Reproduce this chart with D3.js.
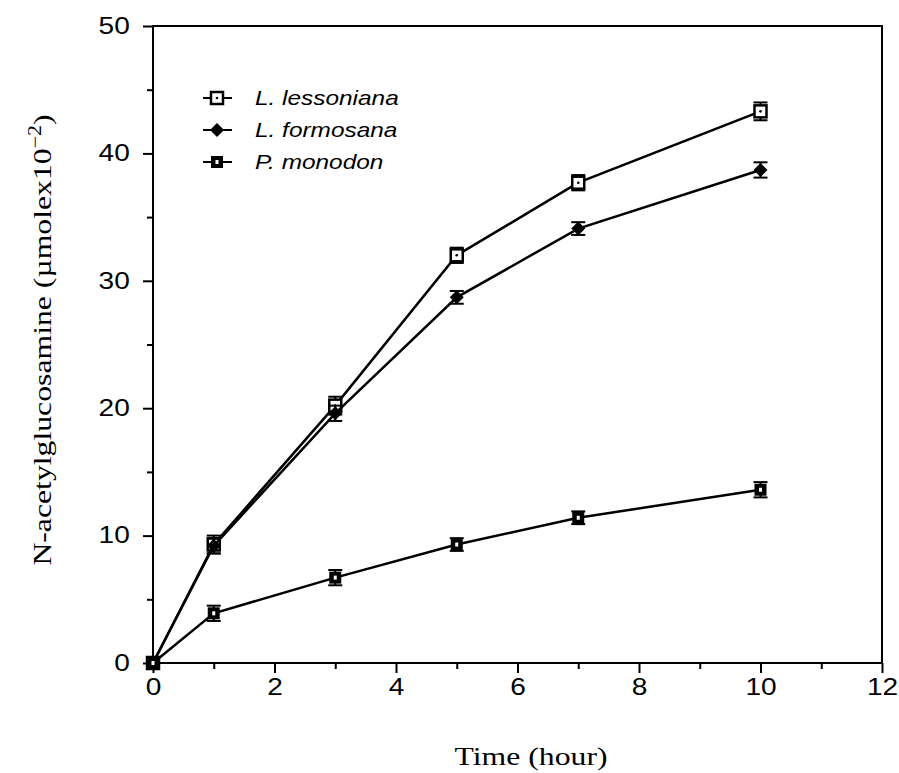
<!DOCTYPE html>
<html>
<head>
<meta charset="utf-8">
<script src="https://cdn.jsdelivr.net/npm/d3@7"></script>
<style>
  body { margin: 0; background: #fff; }
</style>
</head>
<body>
<div id="chart"></div>
<script>
//constants
const width = 899;
const height = 773;
const margin = { top: 26, bottom: 110, left: 153, right: 17 };
const stretch = 1.22; // the original print is wider than tall

//data
const hours = [0, 1, 3, 5, 7, 10];
const lessoniana = [0, 9.3, 20.2, 32.0, 37.7, 43.3];
const lessonianaErr = [0.3, 0.7, 0.7, 0.6, 0.6, 0.7];
const formosana = [0, 9.2, 19.6, 28.7, 34.1, 38.7];
const formosanaErr = [0.3, 0.6, 0.6, 0.5, 0.5, 0.6];
const monodon = [0, 3.9, 6.7, 9.3, 11.4, 13.6];
const monodonErr = [0.3, 0.6, 0.6, 0.5, 0.5, 0.6];
const xTicks = [0, 2, 4, 6, 8, 10, 12];
const yTicks = [0, 10, 20, 30, 40, 50];
const seriesNames = ["L. lessoniana", "L. formosana", "P. monodon"];

const series = [
  { name: seriesNames[0], values: lessoniana, err: lessonianaErr, marker: "open" },
  { name: seriesNames[1], values: formosana, err: formosanaErr, marker: "diamond" },
  { name: seriesNames[2], values: monodon, err: monodonErr, marker: "filled" },
];

const svg = d3
  .select("#chart")
  .append("svg")
  .attr("width", width)
  .attr("height", height);

const x = d3
  .scaleLinear()
  .domain([0, 12])
  .range([margin.left, width - margin.right]);

const y = d3
  .scaleLinear()
  .domain([0, 50])
  .range([height - margin.bottom, margin.top]);

//frame
svg
  .append("rect")
  .attr("x", x(0))
  .attr("y", y(50))
  .attr("width", x(12) - x(0))
  .attr("height", y(0) - y(50))
  .attr("fill", "none")
  .attr("stroke", "#000")
  .attr("stroke-width", 2);

//axes
const xAxis = d3.axisBottom(x).tickValues(xTicks).tickSize(10).tickPadding(6);
const yAxis = d3.axisLeft(y).tickValues(yTicks).tickSize(10).tickPadding(9);

svg
  .append("g")
  .attr("transform", `translate(0,${y(0)})`)
  .call(xAxis)
  .call((g) => g.select(".domain").remove());

svg
  .append("g")
  .attr("transform", `translate(${x(0)},0)`)
  .call(yAxis)
  .call((g) => g.select(".domain").remove());

//minor ticks
svg
  .append("g")
  .attr("transform", `translate(0,${y(0)})`)
  .call(d3.axisBottom(x).tickValues(d3.range(1, 12, 2)).tickSize(6).tickFormat(""))
  .call((g) => g.select(".domain").remove());

svg
  .append("g")
  .attr("transform", `translate(${x(0)},0)`)
  .call(d3.axisLeft(y).tickValues(d3.range(5, 50, 10)).tickSize(6).tickFormat(""))
  .call((g) => g.select(".domain").remove());

svg.selectAll(".tick line").attr("stroke-width", 2);
svg
  .selectAll(".tick text")
  .attr("font-family", "Liberation Sans, Arial, sans-serif")
  .attr("font-size", 23)
  .attr("fill", "#000")
  .attr("transform", `scale(${stretch},1)`);

//axis titles
svg
  .append("text")
  .attr("transform", `translate(531,765) scale(${stretch},1)`)
  .attr("text-anchor", "middle")
  .attr("font-family", "Liberation Serif, Times New Roman, serif")
  .attr("font-size", 26)
  .text("Time (hour)");

const yTitle = svg
  .append("text")
  .attr("transform", `translate(51,340) rotate(-90) scale(${stretch},1)`)
  .attr("text-anchor", "middle")
  .attr("font-family", "Liberation Serif, Times New Roman, serif")
  .attr("font-size", 26);
yTitle.append("tspan").text("N-acetylglucosamine (\u00b5molex10");
yTitle.append("tspan").attr("dy", -10).attr("font-size", 18).text("\u22122");
yTitle.append("tspan").attr("dy", 10).text(")");

//markers
function drawMarker(g, type, cx, cy) {
  if (type === "open") {
    g.append("rect")
      .attr("x", cx - 6).attr("y", cy - 6)
      .attr("width", 12).attr("height", 12)
      .attr("fill", "#fff").attr("stroke", "#000").attr("stroke-width", 2.5);
    g.append("circle").attr("cx", cx).attr("cy", cy).attr("r", 1.3).attr("fill", "#000");
  } else if (type === "diamond") {
    g.append("path")
      .attr("d", `M${cx},${cy - 7}L${cx + 7},${cy}L${cx},${cy + 7}L${cx - 7},${cy}Z`)
      .attr("fill", "#000");
  } else {
    g.append("rect")
      .attr("x", cx - 6).attr("y", cy - 6)
      .attr("width", 12).attr("height", 12)
      .attr("fill", "#000");
    g.append("rect")
      .attr("x", cx - 1.5).attr("y", cy - 2)
      .attr("width", 3).attr("height", 4)
      .attr("fill", "#fff");
  }
}

const line = d3
  .line()
  .x((d) => x(d[0]))
  .y((d) => y(d[1]));

series.forEach((s) => {
  const pts = hours.map((h, i) => [h, s.values[i], s.err[i]]);
  svg
    .append("path")
    .datum(pts)
    .attr("d", line)
    .attr("fill", "none")
    .attr("stroke", "#000")
    .attr("stroke-width", 2.5);

  const g = svg.append("g");
  pts.forEach((p) => {
    const cx = x(p[0]);
    const top = y(p[1] + p[2]);
    const bot = y(p[1] - p[2]);
    g.append("line")
      .attr("x1", cx).attr("x2", cx).attr("y1", top).attr("y2", bot)
      .attr("stroke", "#000").attr("stroke-width", 2);
    [top, bot].forEach((yy) =>
      g.append("line")
        .attr("x1", cx - 7).attr("x2", cx + 7).attr("y1", yy).attr("y2", yy)
        .attr("stroke", "#000").attr("stroke-width", 2)
    );
    drawMarker(g, s.marker, cx, y(p[1]));
  });
});

//legend
const legend = svg.append("g");
series.forEach((s, i) => {
  const ly = 98 + i * 32;
  legend.append("line")
    .attr("x1", 203).attr("x2", 232).attr("y1", ly).attr("y2", ly)
    .attr("stroke", "#000").attr("stroke-width", 2);
  drawMarker(legend, s.marker, 217, ly);
  legend.append("text")
    .attr("transform", `translate(255,${ly + 7}) scale(${stretch},1)`)
    .attr("font-family", "Liberation Sans, Arial, sans-serif")
    .attr("font-style", "italic")
    .attr("font-size", 20)
    .text(s.name);
});
</script>
</body>
</html>
